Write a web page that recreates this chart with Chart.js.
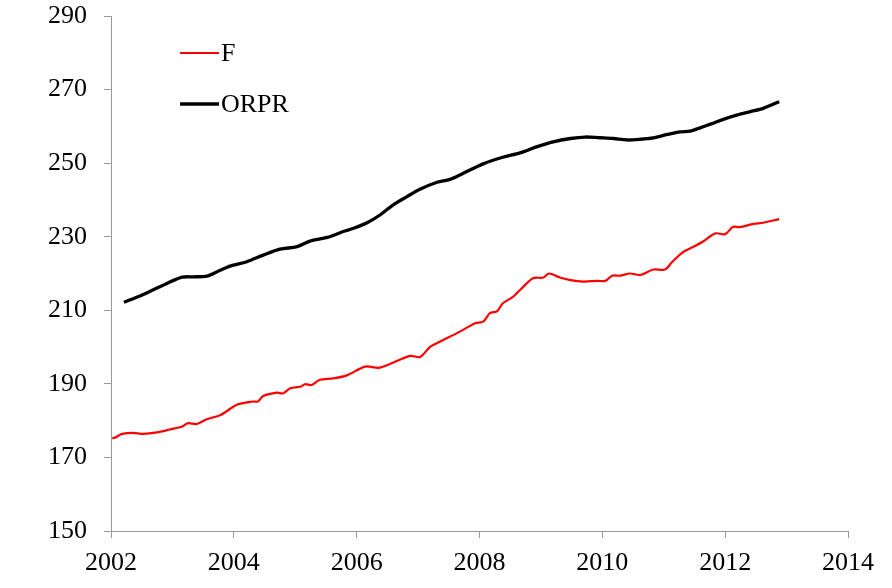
<!DOCTYPE html>
<html>
<head>
<meta charset="utf-8">
<script src="https://cdn.jsdelivr.net/npm/chart.js@4"></script>
<style>
  html, body { margin: 0; padding: 0; background: #fff; }
  #wrap { width: 892px; height: 588px; }
</style>
</head>
<body>
<div id="wrap"><canvas id="c" width="892" height="588"></canvas></div>
<script>
// Series F (red)
const fYears = [2002.02,2002.08,2002.18,2002.36,2002.52,2002.75,2002.96,2003.16,2003.25,2003.40,2003.56,2003.78,2004.05,2004.31,2004.39,2004.48,2004.70,2004.80,2004.92,2005.08,2005.16,2005.27,2005.40,2005.62,2005.84,2006.14,2006.38,2006.87,2007.03,2007.20,2007.36,2007.68,2007.93,2008.06,2008.17,2008.29,2008.38,2008.55,2008.66,2008.87,2009.04,2009.13,2009.31,2009.48,2009.69,2009.92,2010.05,2010.16,2010.29,2010.45,2010.62,2010.83,2011.02,2011.14,2011.32,2011.51,2011.64,2011.84,2012.00,2012.13,2012.24,2012.46,2012.62,2012.88];
const fValues = [175.2,175.5,176.4,176.7,176.4,176.8,177.6,178.4,179.3,179.1,180.4,181.5,184.3,185.2,185.2,186.7,187.6,187.4,188.8,189.2,189.9,189.7,191.1,191.5,192.3,194.7,194.4,197.6,197.3,200.1,201.5,204.2,206.5,206.9,209.2,209.8,211.9,213.7,215.5,218.7,218.9,220.0,218.9,218.2,217.8,218.0,218.0,219.4,219.4,220.0,219.6,221.1,221.1,223.2,225.9,227.5,228.7,230.9,230.7,232.7,232.6,233.5,233.8,234.8];
// Series ORPR (black)
const oYears = [2002.21,2002.47,2002.68,2002.91,2003.16,2003.34,2003.56,2003.73,2003.94,2004.21,2004.48,2004.75,2005.03,2005.24,2005.52,2005.78,2005.95,2006.17,2006.38,2006.59,2006.82,2007.03,2007.31,2007.52,2007.73,2008.06,2008.38,2008.66,2008.94,2009.20,2009.48,2009.72,2009.96,2010.18,2010.40,2010.62,2010.83,2011.06,2011.27,2011.43,2011.59,2011.76,2011.97,2012.20,2012.41,2012.62,2012.88];
const oValues = [212.2,213.9,215.5,217.3,219.0,219.1,219.3,220.5,222.0,223.2,225.0,226.6,227.3,228.8,229.8,231.4,232.3,233.8,235.9,238.6,240.9,242.9,244.8,245.6,247.2,249.8,251.6,252.8,254.5,255.8,256.7,257.1,256.9,256.7,256.3,256.5,256.9,257.8,258.5,258.7,259.6,260.6,261.9,263.1,264.0,264.9,266.7];
const seriesNames = ['F', 'ORPR'];
const xTicks = [2002, 2004, 2006, 2008, 2010, 2012, 2014];
const yTicks = [150, 170, 190, 210, 230, 250, 270, 290];

const toPts = (xs, ys) => xs.map((x, i) => ({ x: x, y: ys[i] }));
const FONT = 'Liberation Serif, "Times New Roman", serif';

const innerLegend = {
  id: 'innerLegend',
  afterDatasetsDraw(chart) {
    const ctx = chart.ctx;
    const rows = [53, 104];
    chart.data.datasets.forEach((ds, i) => {
      const y = rows[i];
      ctx.save();
      ctx.strokeStyle = ds.borderColor;
      ctx.lineWidth = ds.borderWidth;
      ctx.beginPath();
      ctx.moveTo(180, y);
      ctx.lineTo(219, y);
      ctx.stroke();
      ctx.fillStyle = '#000';
      ctx.font = '26px ' + FONT;
      ctx.textBaseline = 'middle';
      ctx.textAlign = 'left';
      ctx.fillText(ds.label, 221, y + 1);
      ctx.restore();
    });
  }
};

// keep the plot area at the reference's pixel box
const fixArea = {
  id: 'fixArea',
  afterLayout(chart) {
    const top = 16;
    chart.chartArea.top = top;
    chart.scales.y.top = top;
    chart.scales.y.height = chart.scales.y.bottom - top;
    chart.scales.y.configure();
  }
};

new Chart(document.getElementById('c'), {
  type: 'line',
  data: {
    datasets: [
      { label: seriesNames[0], data: toPts(fYears, fValues), borderColor: '#ff0000', borderWidth: 2.2, pointRadius: 0, tension: 0.3, fill: false },
      { label: seriesNames[1], data: toPts(oYears, oValues), borderColor: '#000000', borderWidth: 3.3, pointRadius: 0, tension: 0.3, fill: false }
    ]
  },
  options: {
    responsive: false,
    animation: false,
    devicePixelRatio: 1,
    layout: { padding: { top: 0, right: 44, left: 0, bottom: 0 } },
    plugins: { legend: { display: false }, tooltip: { enabled: false } },
    scales: {
      x: {
        type: 'linear',
        min: 2002, max: 2014,
        afterBuildTicks: (s) => { s.ticks = xTicks.map(v => ({ value: v })); },
        afterFit: (s) => { s.height = 57; },
        ticks: { color: '#000', font: { family: FONT, size: 26 }, padding: 10, maxRotation: 0, callback: (v) => String(v) },
        grid: { display: true, drawOnChartArea: false, drawTicks: true, tickLength: 7, color: '#999' },
        border: { display: true, color: '#999', width: 1 }
      },
      y: {
        min: 150, max: 290,
        afterBuildTicks: (s) => { s.ticks = yTicks.map(v => ({ value: v })); },
        afterFit: (s) => { s.width = 111; },
        ticks: { color: '#000', font: { family: FONT, size: 26 }, padding: 17, callback: (v) => String(v) },
        grid: { display: true, drawOnChartArea: false, drawTicks: true, tickLength: 7, color: '#999' },
        border: { display: true, color: '#999', width: 1 }
      }
    }
  },
  plugins: [fixArea, innerLegend]
});
</script>
</body>
</html>
